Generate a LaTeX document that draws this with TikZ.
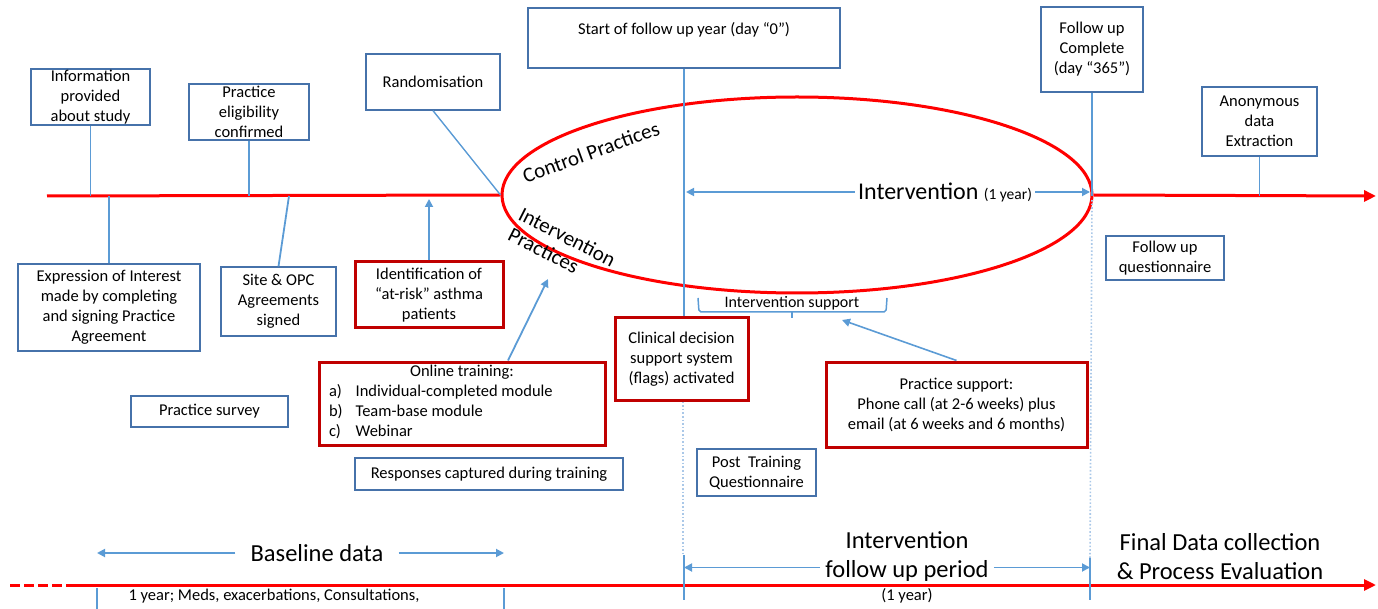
\documentclass[tikz,border=0pt]{standalone}
\usepackage{fontspec}
\setmainfont{Carlito}
\usetikzlibrary{positioning}
\usetikzlibrary{arrows.meta}
\usetikzlibrary{shapes.geometric}
\definecolor{boxblue}{RGB}{70,114,170}
\definecolor{linkblue}{RGB}{91,155,213}
\definecolor{dotblue}{RGB}{170,200,232}
\definecolor{boxred}{RGB}{192,0,0}
\tikzset{x=1pt, y=-1pt,       % One unit is one pixel of the layout, y runs down
    every node/.style={font=\fontsize{16.5}{20}\selectfont},
    box/.style={              % Plain steps of the study
        draw=boxblue,
        line width=1.3pt,
        align=center,
        inner sep=1pt},
    redbox/.style={           % Steps of the intervention arm
        draw=boxred,
        line width=3pt,
        align=center,
        inner sep=1pt},
    link/.style={draw=linkblue, line width=1.8pt},
    linkarrow/.style={link, -{Triangle[width=8pt,length=8pt]}},
    timeline/.style={draw=red, line width=3pt},
    timearrow/.style={timeline, -{Triangle[width=11pt,length=12pt]}},
    dotline/.style={draw=dotblue, line width=1.6pt, dotted},
    big/.style={font=\fontsize{24.5}{29}\selectfont},
    armtext/.style={font=\fontsize{21}{23}\selectfont}}

\begin{document}
\begin{tikzpicture}
        \useasboundingbox (0,0) rectangle (1378,609);

        % upper time line
        \coordinate (tl-start) at (47,196);
        \coordinate (tl-end) at (1376,196);
        \node[ellipse, draw=red, line width=3pt, minimum width=590, minimum height=196] (arm) at (797,195) {};
        \draw[timeline] (tl-start) -- (arm.west);
        \draw[timearrow] (arm.east) -- (tl-end);

        \node[armtext, rotate=20] (ctrl) at (591,152) {Control Practices};
        \node[armtext, rotate=-27, align=left] (intp) at (562,247) {Intervention\\Practices};

        \node[box, minimum width=119, minimum height=56] (info) at (90.5,97) {Information\\provided\\about study};
        \node[box, minimum width=120, minimum height=56] (elig) at (249,112) {Practice\\eligibility\\confirmed};
        \node[box, minimum width=134, minimum height=56] (rand) at (433,82) {Randomisation};
        \node[box, minimum width=312, minimum height=60] (start) at (684,38) {Start of follow up year (day “0”)\\~};
        \node[box, minimum width=102, minimum height=85] (fu) at (1092,49.5) {Follow up\\Complete\\(day “365”)};
        \node[box, minimum width=115, minimum height=69] (anon) at (1259.5,121.5) {Anonymous\\data\\Extraction};

        \node[box, minimum width=182, minimum height=87] (expr) at (109,307.5) {Expression of Interest\\made by completing\\and signing Practice\\Agreement};
        \node[box, minimum width=115, minimum height=69] (site) at (278.5,301.5) {Site \& OPC\\Agreements\\signed};
        \node[redbox, minimum width=148, minimum height=66] (ident) at (429,295) {Identification of\\“at-risk” asthma\\patients};
        \node[box, minimum width=118, minimum height=44] (fuq) at (1165,258) {Follow up\\questionnaire};

        \node[redbox, minimum width=133, minimum height=82] (clin) at (681.5,359) {Clinical decision\\support system\\(flags) activated};
        \node[redbox, minimum width=286, minimum height=83] (online) at (462,403.5)
            {Online training:\\\makebox[266pt][l]{\begin{tabular}[t]{@{}l@{\hspace{13pt}}l@{}}
                a) & Individual-completed module\\
                b) & Team-base module\\
                c) & Webinar\end{tabular}}};
        \node[redbox, minimum width=261, minimum height=85] (psup) at (956.5,404.5) {Practice support:\\Phone call (at 2-6 weeks) plus\\email (at 6 weeks and 6 months)};
        \node[box, minimum width=157, minimum height=31] (survey) at (209.5,411.5) {Practice survey};
        \node[box, minimum width=268, minimum height=32] (resp) at (489,474) {Responses captured during training};
        \node[box, minimum width=119, minimum height=47] (post) at (756.5,472.5) {Post~ Training\\Questionnaire};

        % pins on the upper time line
        \draw[link] (info.south) -- (info.south |- tl-start);
        \draw[link] (elig.south) -- (elig.south |- tl-start);
        \draw[link] (anon.south) -- (anon.south |- tl-start);
        \draw[link] (expr.north) -- (expr.north |- tl-start);
        \coordinate (site-pin) at (289,196);
        \draw[link] (site.north) -- (site-pin);
        \draw[link, line width=1.4pt] (rand.south) -- (arm.west);
        \draw[linkarrow] (ident.north) -- ([yshift=-3pt]ident.north |- tl-start);
        \coordinate (train-pin) at (548,279);
        \draw[linkarrow] ([xshift=46pt]online.north) -- (train-pin);

        % follow up year
        \draw[link] (start.south) -- (start.south |- clin.north);
        \draw[link] (fu.south) -- (fu.south |- tl-start);
        \node[font=\fontsize{24}{26}\selectfont, inner xsep=3pt] (intv) at (945,192) {Intervention {\fontsize{15.5}{16}\selectfont(1 year)}};
        \draw[linkarrow] (intv.west) -- ([xshift=2pt]start.south |- intv.west);
        \draw[linkarrow] (intv.east) -- ([xshift=-2pt]fu.south |- intv.east);

        \node[font=\fontsize{16}{18}\selectfont] (isup) at (792,303) {Intervention support};
        \draw[link, line width=1.5pt, rounded corners=2pt] (698,298) -- (699,312) -- (886,312) -- (887,298);
        \draw[link, line width=1.5pt] (isup.south |- 0,312) -- (isup.south |- 0,318);
        \coordinate (sup-pin) at (842,320);
        \draw[linkarrow, line width=1.6pt] (psup.north) -- (sup-pin);

        % lower time line
        \coordinate (bl-start) at (10,585);
        \coordinate (bl-solid) at (70,585);
        \coordinate (bl-end) at (1376,585);
        \draw[timeline, dash pattern=on 10pt off 4pt] (bl-start) -- (bl-solid);
        \draw[timearrow] (bl-solid) -- (bl-end);

        \coordinate (b0) at (97,588);
        \coordinate (b1) at (504,588);
        \coordinate (i0) at (684,555);
        \coordinate (i1) at (1090,558);
        \draw[link] (b0) -- ++(0,21);
        \draw[link] (b1) -- ++(0,21);
        \draw[link] (i0) -- ++(0,45);
        \draw[link] (i1) -- ++(0,42);
        \draw[dotline] ([xshift=-1pt]start.south |- clin.south) -- ([xshift=-1pt]i0);
        \draw[dotline] ([yshift=-4pt]fu.south |- tl-start) -- (i1);

        \node[big, inner xsep=15pt] (base) at (317,553) {Baseline data};
        \draw[linkarrow] (base.west) -- (base.west -| b0);
        \draw[linkarrow] (base.east) -- (base.east -| b1);
        \node (bdata) at (274,596) {1 year; Meds, exacerbations, Consultations,};

        \node[big, align=center, inner xsep=5pt] (ifu) at (907,556.5) {Intervention\\follow up period};
        \draw[linkarrow] ([yshift=-11pt]ifu.west) -- ([yshift=-11pt]ifu.west -| i0);
        \draw[linkarrow] ([yshift=-11pt]ifu.east) -- ([yshift=-11pt]ifu.east -| i1);
        \node (ifu-yr) at (907,596) {(1 year)};
        \node[big, align=center] (final) at (1220,556.5) {Final Data collection\\\& Process Evaluation};
    \end{tikzpicture}
\end{document}
